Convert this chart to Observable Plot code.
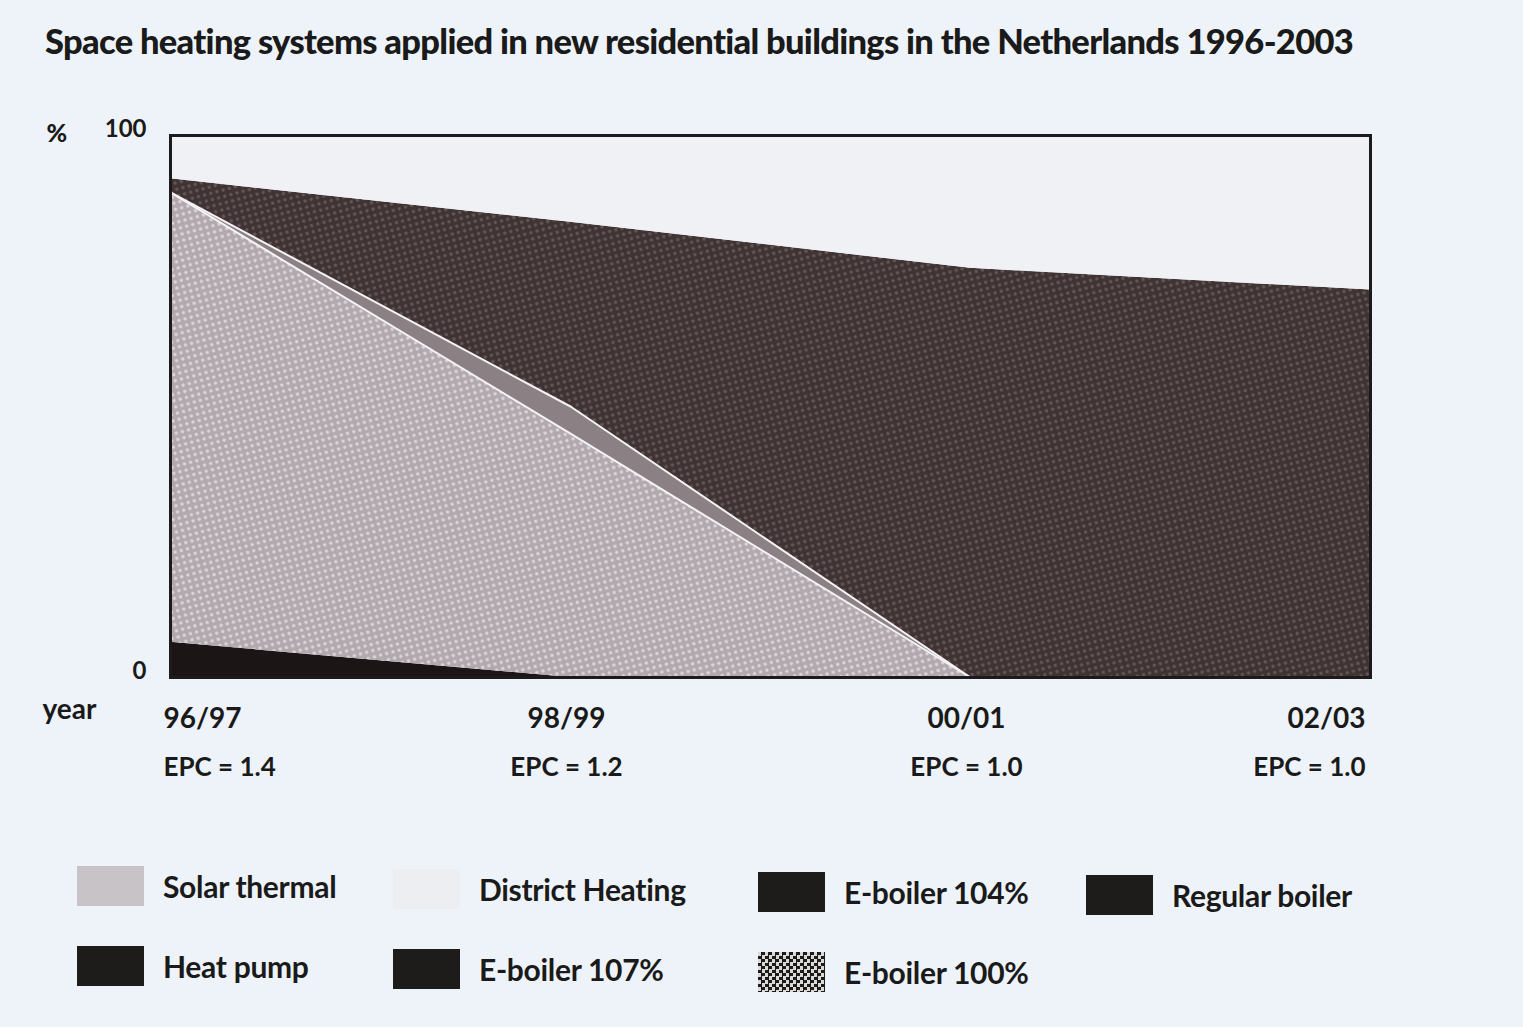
<!DOCTYPE html>
<html>
<head>
<meta charset="utf-8">
<script src="https://cdn.jsdelivr.net/npm/d3@7"></script>
<script src="https://cdn.jsdelivr.net/npm/@observablehq/plot@0.6"></script>
<style>
  html, body { margin: 0; padding: 0; }
  body { width: 1523px; height: 1027px; background: #eef3f9; position: relative; overflow: hidden;
         font-family: Lato, "Open Sans", sans-serif; color: #1a1a1a; }
  #title { position: absolute; left: 45px; top: 20px; font-size: 34.5px; font-weight: 900; letter-spacing: -0.7px; white-space: nowrap; }
  #chart { position: absolute; left: 0; top: 95px; }
  .leg { position: absolute; display: flex; align-items: center; font-size: 30px; font-weight: 700; letter-spacing: -0.3px; white-space: nowrap; }
  .sw { width: 67px; height: 40px; margin-right: 19px; flex: none; }
</style>
</head>
<body>
<div id="title">Space heating systems applied in new residential buildings in the Netherlands 1996-2003</div>
<div id="chart"></div>
<div id="legend"></div>
<script>
// ---- data ----
const years = ["96/97", "98/99", "00/01", "02/03"];
const epc = ["EPC = 1.4", "EPC = 1.2", "EPC = 1.0", "EPC = 1.0"];
const yTicks = [0, 100];

// stacked bottom -> top, percent of new dwellings
const heatPump        = [6.5, 0, 0, 0];
const solarThermal    = [83, 45, 0, 0];
const eBoiler104      = [0, 5, 0, 0];
const eBoiler100      = [2.5, 34, 75.5, 71.5];
const districtHeating = [8, 16, 24.5, 28.5];

const seriesNames = ["Heat pump", "Solar thermal", "E-boiler 104%", "E-boiler 100%", "District Heating"];
const seriesValues = [heatPump, solarThermal, eBoiler104, eBoiler100, districtHeating];
const seriesFills = ["#1b1515", "url(#dotsLight)", "#8b8184", "url(#dotsDark)", "#eff1f5"];

const legendLabels = [
  ["Solar thermal", "District Heating", "E-boiler 104%", "Regular boiler"],
  ["Heat pump", "E-boiler 107%", "E-boiler 100%"]
];
const legendSwatches = [
  ["#c8c3c7", "#eceef2", "#1e1b1b", "#1e1b1b"],
  ["#1e1b1b", "#1e1b1b", "checker"]
];

// ---- manual stacking (values only) ----
const table = years.map((y, i) => {
  const row = {year: y};
  seriesNames.forEach((s, k) => row[s] = seriesValues[k][i]);
  return row;
});
const stack = d3.stack().keys(seriesNames)(table);
const layers = [];
stack.forEach((layer, k) => layer.forEach((p, i) => layers.push({
  series: seriesNames[k], year: years[i], i, y1: p[0], y2: p[1]
})));

const marks = [];
seriesNames.forEach((s, k) => {
  marks.push(Plot.areaY(layers.filter(d => d.series === s), {
    x: "year", y1: "y1", y2: "y2", fill: seriesFills[k], curve: "linear"
  }));
});
// white separation lines (top of solar thermal & top of grey strip)
["Solar thermal", "E-boiler 104%"].forEach(s => {
  marks.push(Plot.lineY(layers.filter(d => d.series === s && d.i <= 2), {
    x: "year", y: "y2", stroke: "#f4f2f4", strokeWidth: 2
  }));
});
marks.push(Plot.frame({stroke: "#1c1a1a", strokeWidth: 3}));

// y tick labels
marks.push(Plot.axisY(yTicks, {tickSize: 0, tickPadding: 24, fontSize: 24, fontWeight: 700, dy: -6, label: null}));
marks.push(Plot.text(["%"], {frameAnchor: "top-left", dx: -124, dy: -2, lineAnchor: "middle", textAnchor: "start", fontSize: 25, fontWeight: 900}));
marks.push(Plot.text(["year"], {frameAnchor: "bottom-left", dx: -128, dy: 33, lineAnchor: "middle", textAnchor: "start", fontSize: 28, fontWeight: 700}));

// x labels (two lines)
const xl = years.map((y, i) => ({year: y, epc: epc[i], i}));
const anchors = [["start", -7, d => d.i === 0], ["middle", -4, d => d.i > 0 && d.i < 3], ["end", -5, d => d.i === 3]];
anchors.forEach(([ta, dx, f]) => {
  marks.push(Plot.text(xl.filter(f), {x: "year", text: "year", frameAnchor: "bottom", dy: 42, dx, lineAnchor: "middle", textAnchor: ta, fontSize: 28, fontWeight: 700}));
  marks.push(Plot.text(xl.filter(f), {x: "year", text: "epc", frameAnchor: "bottom", dy: 90, dx, lineAnchor: "middle", textAnchor: ta, fontSize: 26, fontWeight: 700, letterSpacing: -0.5}));
});

const svg = Plot.plot({
  width: 1523,
  height: 720,
  marginLeft: 170,
  marginRight: 153,
  marginTop: 40,
  marginBottom: 138,
  style: {background: "transparent", fontFamily: "Lato, 'Open Sans', sans-serif", color: "#1a1a1a"},
  x: {type: "point", domain: years, padding: 0, axis: null},
  y: {domain: [0, 100], axis: null},
  marks
});

// textures
const ns = "http://www.w3.org/2000/svg";
const defs = document.createElementNS(ns, "defs");
defs.innerHTML = `
  <pattern id="dotsLight" width="9" height="9" patternUnits="userSpaceOnUse" patternTransform="rotate(30)">
    <rect width="9" height="9" fill="#b2a9af"/>
    <circle cx="2.2" cy="2.2" r="1.7" fill="#dcd5d9"/>
    <circle cx="6.7" cy="6.7" r="1.7" fill="#dcd5d9"/>
  </pattern>
  <pattern id="dotsDark" width="9" height="9" patternUnits="userSpaceOnUse" patternTransform="rotate(30)">
    <rect width="9" height="9" fill="#3f3333"/>
    <circle cx="2.2" cy="2.2" r="1.7" fill="#665757"/>
    <circle cx="6.7" cy="6.7" r="1.7" fill="#665757"/>
  </pattern>`;
svg.insertBefore(defs, svg.firstChild);
document.getElementById("chart").appendChild(svg);

// legend
const colX = [77, 393, 758, 1086];
const rowY = [866, 946];
const legend = document.getElementById("legend");
legendLabels.forEach((row, r) => row.forEach((lab, c) => {
  const item = document.createElement("div");
  item.className = "leg";
  item.style.left = colX[c] + "px";
  item.style.top = (rowY[r] + c * 3) + "px";
  const sw = document.createElement("div");
  sw.className = "sw";
  const col = legendSwatches[r][c];
  if (col === "checker") {
    sw.style.background = "repeating-conic-gradient(#1e1b1b 0 25%, #d9d9d9 0 50%) 0 0/7px 7px";
  } else {
    sw.style.background = col;
  }
  const t = document.createElement("span");
  t.textContent = lab;
  item.appendChild(sw);
  item.appendChild(t);
  legend.appendChild(item);
}));
</script>
</body>
</html>
